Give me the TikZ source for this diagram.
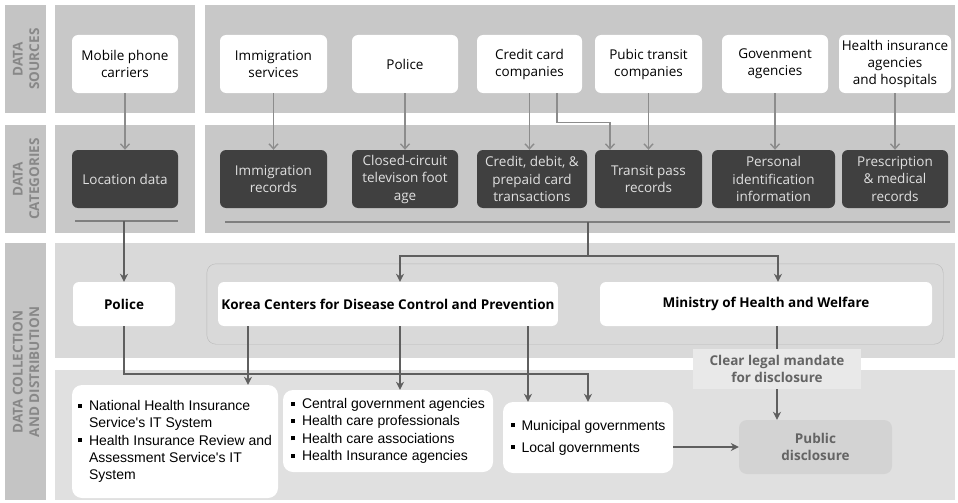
\documentclass[tikz,border=0pt]{standalone}
\usepackage{fontspec}
\setmainfont{Open Sans}
\newfontfamily\listfont{Liberation Sans}
\usetikzlibrary{arrows.meta,fit,positioning}
\definecolor{bandgray}{RGB}{200,200,200}
\definecolor{sidegray}{RGB}{196,196,196}
\definecolor{collgray}{RGB}{217,217,217}
\definecolor{distgray}{RGB}{224,224,224}
\definecolor{catdark}{RGB}{64,64,64}
\definecolor{sidetext}{RGB}{136,136,136}
\definecolor{srcline}{RGB}{140,140,140}
\definecolor{flowgray}{RGB}{95,95,95}
\definecolor{pubfill}{RGB}{211,211,211}
\definecolor{legalfill}{RGB}{233,233,233}
\definecolor{pubtext}{RGB}{100,100,100}
\newcommand{\bul}{\makebox[11pt][l]{\rule[3pt]{4pt}{4pt}}}
\newcommand{\ind}{\hspace*{11pt}}
\tikzset{
  source/.style={rectangle,rounded corners=6pt,fill=white,align=center,
    font=\fontsize{13.5}{17}\selectfont,minimum height=58pt,inner sep=1pt},
  category/.style={rectangle,rounded corners=6pt,fill=catdark,text=white!88!black,align=center,
    font=\fontsize{13.5}{17.5}\selectfont,minimum height=58pt,inner sep=1pt},
  agency/.style={rectangle,rounded corners=6pt,fill=white,
    font=\bfseries\fontsize{13.5}{16}\selectfont,minimum height=44pt},
  listbox/.style={rectangle,rounded corners=10pt,fill=white,align=left,
    font=\listfont\fontsize{14}{17.3}\selectfont,inner sep=1pt},
  sidelabel/.style={rotate=90,align=center,text=sidetext,
    font=\bfseries\fontsize{13.5}{16.5}\selectfont},
  srcarrow/.style={draw=srcline,line width=1.4pt,-{Straight Barb[length=5pt,width=9pt]}},
  flowline/.style={draw=flowgray,line width=1.8pt},
  flowarrow/.style={flowline,-{Stealth[length=8pt,width=8pt]}},
  ruleline/.style={draw=flowgray!80,line width=1.2pt}
}
\begin{document}
\begin{tikzpicture}[x=1pt,y=-1pt]
\useasboundingbox (0,0) rectangle (958,503);
% bands
\fill[sidegray] (5,5) rectangle (46,113);
\fill[sidegray] (5,125) rectangle (46,233);
\fill[sidegray] (5,243) rectangle (46,500);
\fill[bandgray] (55,5) rectangle (195,113);
\fill[bandgray] (205,5) rectangle (955,113);
\fill[bandgray] (55,125) rectangle (195,233);
\fill[bandgray] (205,125) rectangle (955,233);
\fill[collgray] (55,243) rectangle (955,358);
\fill[distgray] (55,370) rectangle (955,500);

\node (lsrc) at (26,59) [sidelabel] {DATA\\SOURCES};
\node (lcat) at (26,179) [sidelabel] {DATA\\CATEGORIES};
\node (lcol) at (26,372) [sidelabel] {DATA COLLECTION\\AND DISTRIBUTION};

% data sources
\node (mob) at (125,64) [source,minimum width=106pt] {Mobile phone\\carriers};
\node (immig) at (273.5,64) [source,minimum width=107pt] {Immigration\\services};
\node (pol) at (405,64) [source,minimum width=106pt] {Police};
\node (credit) at (529.5,64) [source,minimum width=105pt] {Credit card\\companies};
\node (transit) at (648.5,64) [source,minimum width=107pt] {Pubic transit\\companies};
\node (gov) at (775,64) [source,minimum width=106pt] {Govenment\\agencies};
\node (health) at (895,64) [source,minimum width=112pt] {Health insurance\\agencies\\and hospitals};

% data categories
\node (loc) at (125,179) [category,minimum width=106pt] {Location data};
\node (immrec) at (273.5,179) [category,minimum width=107pt] {Immigration\\records};
\node (cctv) at (405,179) [category,minimum width=106pt] {Closed-circuit\\televison foot\\age};
\node (card) at (532,179) [category,minimum width=110pt] {Credit, debit, \&\\prepaid card\\transactions};
\node (pass) at (648.5,179) [category,minimum width=107pt] {Transit pass\\records};
\node (pid) at (773.5,179) [category,minimum width=123pt] {Personal\\identification\\information};
\node (presc) at (895,179) [category,minimum width=106pt] {Prescription\\\& medical\\records};

\draw[srcarrow] (mob) -- (loc);
\draw[srcarrow] (immig) -- (immrec);
\draw[srcarrow] (pol) -- (cctv);
\draw[srcarrow] (credit) -- (credit.south |- card.north);
\draw[srcarrow] ([xshift=27.5pt]credit.south) -- ++(0,29) -| ([xshift=-38.5pt]pass.north);
\draw[srcarrow] (transit) -- (pass);
\draw[srcarrow] (gov) -- (gov.south |- pid.north);
\draw[srcarrow] (health) -- (presc);

\coordinate (la) at (75,221);
\coordinate (lb) at (178,221);
\coordinate (lmid) at (124,221);
\coordinate (ra) at (225,222);
\coordinate (rb) at (950,222);
\coordinate (rmid) at (588,222);
\coordinate (hub) at (588,256);
\draw[ruleline] (la) -- (lb);
\draw[ruleline] (ra) -- (rb);

% data collection
\node (police) at (124,304) [agency,minimum width=102pt] {Police};
\node (kcdc) at (388,304) [agency,minimum width=336pt] {Korea Centers for Disease Control and Prevention};
\node (mohw) at (766,304) [agency,minimum width=332pt] {Ministry of Health and Welfare};
\node (group) [fit=(kcdc)(mohw),draw=gray!55,rounded corners=9pt,inner xsep=11pt,inner ysep=18pt] {};

% distribution
\node (nhis) at (175,441.5) [listbox,minimum width=206pt,minimum height=113pt]
  {\bul National Health Insurance\\\ind Service's IT System\\\bul Health Insurance Review and\\\ind Assessment Service's IT\\\ind System};
\node (central) at (388,431) [listbox,minimum width=210pt,minimum height=82pt]
  {\bul Central government agencies\\\bul Health care professionals\\\bul Health care associations\\\bul Health Insurance agencies};
\node (muni) at (588,437.5) [listbox,minimum width=170pt,minimum height=71pt]
  {\bul Municipal governments\\[4.7pt]\bul Local governments};
\node (legal) at (777,369) [rectangle,fill=legalfill,minimum width=168pt,minimum height=40pt,align=center,
  text=pubtext,font=\bfseries\fontsize{13.5}{17}\selectfont,inner sep=1pt] {Clear legal mandate\\for disclosure};
\node (public) at (815.5,447) [rectangle,rounded corners=8pt,fill=pubfill,minimum width=153pt,minimum height=54pt,
  align=center,text=pubtext,font=\bfseries\fontsize{13.5}{17}\selectfont] {Public\\disclosure};

\draw[flowarrow] (lmid) -- (police.north);
\draw[flowline] (rmid) -- (hub);
\draw[flowarrow] (hub) -| ([xshift=12pt]kcdc.north);
\draw[flowarrow] (hub) -| ([xshift=12pt]mohw.north);
\draw[flowarrow] (police.south) -- ++(0,48) -| (muni.north);
\draw[flowarrow] ([xshift=-140pt]kcdc.south) -- ([xshift=-140pt]kcdc.south |- nhis.north);
\draw[flowarrow] ([xshift=12pt]kcdc.south) -- ([xshift=12pt]kcdc.south |- central.north);
\draw[flowarrow] ([xshift=140pt]kcdc.south) -- ([xshift=140pt]kcdc.south |- muni.north);
\draw[flowline] ([xshift=11pt]mohw.south) -- ([xshift=11pt]mohw.south |- legal.north);
\draw[flowarrow] (legal.south) -- (legal.south |- public.north);
\draw[flowarrow] (public.west -| muni.east) -- (public.west);
\end{tikzpicture}
\end{document}
